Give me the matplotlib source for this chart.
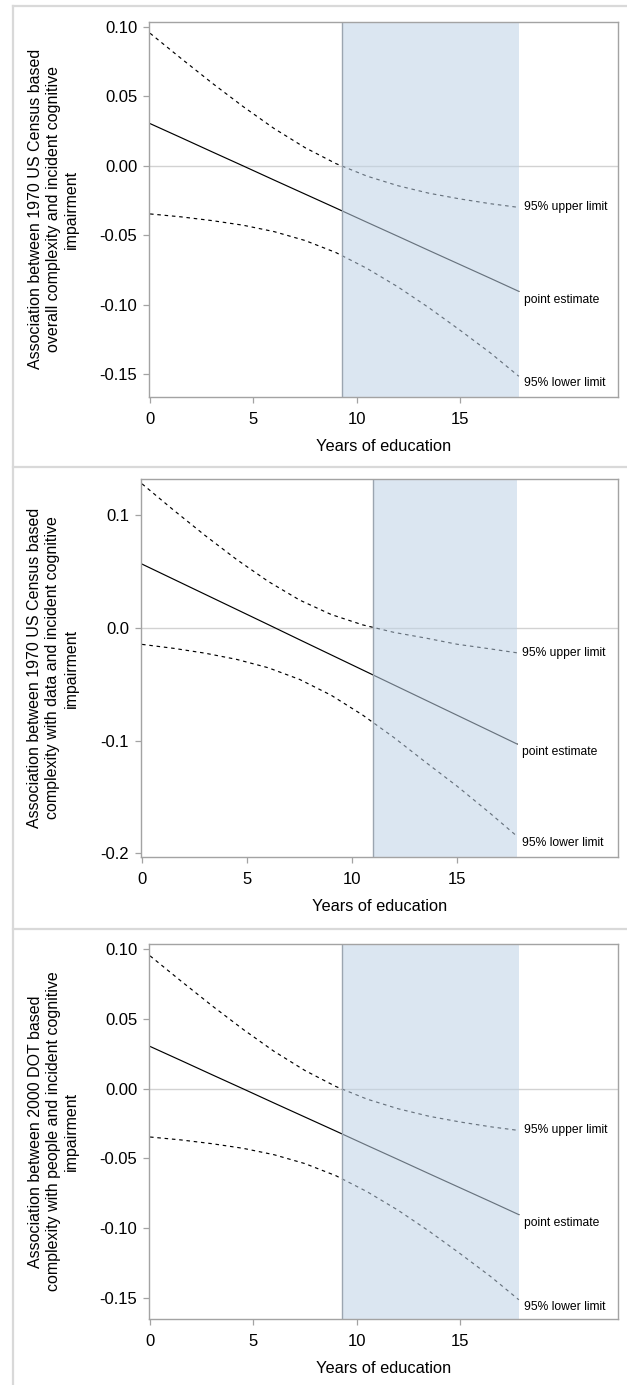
"""Three stacked panels: association with cognitive impairment vs years of education,
point estimate with 95% limits and a shaded region of significance."""
import matplotlib
matplotlib.use("Agg")
import matplotlib.pyplot as plt
from matplotlib.lines import Line2D

plt.rcParams["font.family"] = ["Liberation Sans", "DejaVu Sans"]

# ---- data ------------------------------------------------------------------
years = [0, 1.5, 3, 4.5, 6, 7.5, 9, 10.5, 12, 13.5, 15, 16.5, 17.85]

p1_est = [0.0303, 0.0202, 0.0100, -0.0001, -0.0103, -0.0204, -0.0305,
          -0.0407, -0.0508, -0.0610, -0.0711, -0.0812, -0.0904]
p1_upper = [0.0953, 0.0772, 0.0595, 0.0426, 0.0268, 0.0130, 0.0015,
            -0.0075, -0.0144, -0.0198, -0.0239, -0.0274, -0.0300]
p1_lower = [-0.0347, -0.0368, -0.0395, -0.0428, -0.0474, -0.0538, -0.0625,
            -0.0739, -0.0872, -0.1022, -0.1183, -0.1350, -0.1515]
p1_sig_from = 9.27

p2_est = [0.0565, 0.0431, 0.0297, 0.0163, 0.0029, -0.0106, -0.0240,
          -0.0374, -0.0508, -0.0642, -0.0776, -0.0910, -0.1031]
p2_upper = [0.1277, 0.1044, 0.0819, 0.0606, 0.0412, 0.0246, 0.0118,
            0.0026, -0.0041, -0.0091, -0.0146, -0.0185, -0.0222]
p2_lower = [-0.0147, -0.0182, -0.0225, -0.0280, -0.0354, -0.0458, -0.0598,
            -0.0774, -0.0975, -0.1193, -0.1406, -0.1635, -0.1850]
p2_sig_from = 11.0

p3_est = [0.0303, 0.0202, 0.0100, -0.0001, -0.0103, -0.0204, -0.0305,
          -0.0407, -0.0508, -0.0610, -0.0711, -0.0812, -0.0904]
p3_upper = [0.0953, 0.0772, 0.0595, 0.0426, 0.0268, 0.0130, 0.0015,
            -0.0075, -0.0144, -0.0198, -0.0239, -0.0274, -0.0300]
p3_lower = [-0.0347, -0.0368, -0.0395, -0.0428, -0.0474, -0.0538, -0.0625,
            -0.0739, -0.0872, -0.1022, -0.1183, -0.1350, -0.1515]
p3_sig_from = 9.27

ticks_2dp = [-0.15, -0.10, -0.05, 0.00, 0.05, 0.10]
ticklabels_2dp = ["-0.15", "-0.10", "-0.05", "0.00", "0.05", "0.10"]
ticks_1dp = [-0.2, -0.1, 0.0, 0.1]
ticklabels_1dp = ["-0.2", "-0.1", "0.0", "0.1"]
x_ticks = [0, 5, 10, 15]

ylabels = [
    "Association between 1970 US Census based\noverall complexity and incident cognitive\nimpairment",
    "Association between 1970 US Census based\ncomplexity with data and incident cognitive\nimpairment",
    "Association between 2000 DOT based\ncomplexity with people and incident cognitive\nimpairment",
]
curve_labels = ["95% upper limit", "point estimate", "95% lower limit"]

# ---- layout ------------------------------------------------------------------
W, H = 627, 1385
FRAME = "#a3a3a3"
SHADE = "#bed2e6"

fig = plt.figure(figsize=(W / 100, H / 100), dpi=100)
fig.patch.set_facecolor("white")

# light grey panel borders
for y in (6, 467, 929):
    fig.add_artist(Line2D([13 / W, 1], [1 - y / H, 1 - y / H], color="#d9d9d9", lw=1.6,
                          transform=fig.transFigure))
fig.add_artist(Line2D([13 / W, 13 / W], [1 - 6 / H, 0], color="#d9d9d9", lw=1.6,
                      transform=fig.transFigure))

panels = [
    # (left_px, top_px, bottom_px, est, upper, lower, sig_from, ylim, ticks, labels)
    (149, 21.7, 397, p1_est, p1_upper, p1_lower, p1_sig_from, (-0.1664, 0.1036),
     ticks_2dp, ticklabels_2dp),
    (141, 479, 857, p2_est, p2_upper, p2_lower, p2_sig_from, (-0.2033, 0.132),
     ticks_1dp, ticklabels_1dp),
    (149, 944, 1319, p3_est, p3_upper, p3_lower, p3_sig_from, (-0.1653, 0.1038),
     ticks_2dp, ticklabels_2dp),
]

for i, (lpx, tpx, bpx, est, upper, lower, sig, ylim, yt, ytl) in enumerate(panels):
    ax = fig.add_axes([lpx / W, 1 - bpx / H, (618 - lpx) / W, (bpx - tpx) / H])
    ax.set_xlim(-0.05, 22.65)
    ax.set_ylim(*ylim)

    ax.axhline(0, color="#d2d2d2", lw=1.0, zorder=1)
    ax.plot(years, upper, color="black", lw=0.85, ls=(0, (3, 3.2)), zorder=2)
    ax.plot(years, est, color="black", lw=0.85, zorder=2)
    ax.plot(years, lower, color="black", lw=0.85, ls=(0, (3, 3.2)), zorder=2)
    ax.axvspan(sig, years[-1], color=SHADE, alpha=0.55, lw=0, zorder=3)
    ax.axvline(sig, color="#9ba5b0", lw=1.0, zorder=4)

    # curve labels at the right end
    ends = [upper[-1], est[-1], lower[-1]]
    offs = [0, -6, -5]
    for txt, yv, dy in zip(curve_labels, ends, offs):
        ax.annotate(txt, (years[-1], yv), xytext=(3.5, dy), textcoords="offset points",
                    ha="left", va="center", fontsize=8.7, color="black",
                    annotation_clip=False)

    ax.set_xticks(x_ticks)
    ax.set_xticklabels([str(t) for t in x_ticks])
    ax.set_yticks(yt)
    ax.set_yticklabels(ytl)
    ax.tick_params(colors=FRAME, labelcolor="black", labelsize=12, length=4.5,
                   width=0.9, direction="out")
    ax.tick_params(axis="y", pad=4)
    ax.tick_params(axis="x", pad=6)
    for s in ax.spines.values():
        s.set_color(FRAME)
        s.set_linewidth(1.0)
        s.set_zorder(5)

    ax.set_xlabel("Years of education", fontsize=11.8)
    ax.xaxis.set_label_coords(0.5, -0.112)
    ax.text(-0.204 if lpx == 149 else -0.185, 0.5, ylabels[i], transform=ax.transAxes,
            rotation=90, ha="center", va="center", multialignment="center",
            fontsize=11.5, linespacing=1.27)

fig.savefig("out.png", dpi=100, facecolor="white")
